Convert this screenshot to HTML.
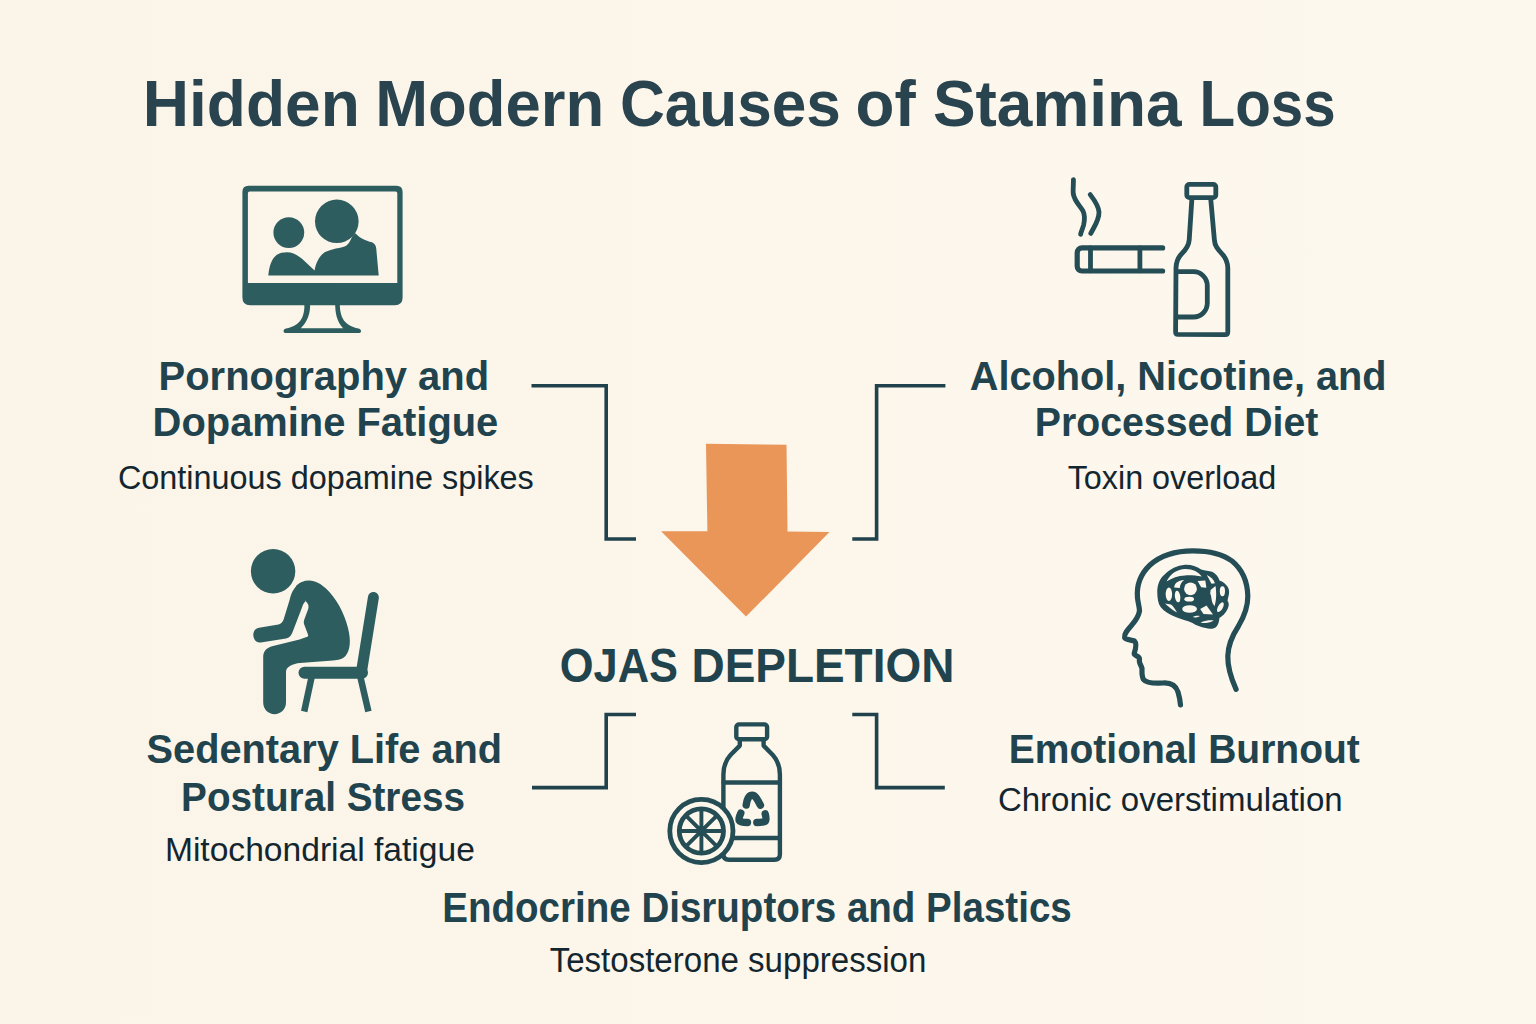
<!DOCTYPE html>
<html><head><meta charset="utf-8"><style>
html,body{margin:0;padding:0;background:#fcf6eb;}
body{width:1536px;height:1024px;overflow:hidden;position:relative;}
svg{position:absolute;left:0;top:0;}
text{font-family:"Liberation Sans",sans-serif;}
</style></head><body>
<svg width="1536" height="1024" viewBox="0 0 1536 1024">
<defs><linearGradient id="bgg" x1="0" y1="0" x2="1" y2="0"><stop offset="0" stop-color="#fbf4e8"/><stop offset="1" stop-color="#fdf8ee"/></linearGradient></defs>
<rect width="1536" height="1024" fill="url(#bgg)"/>

<g stroke="#1f424d" fill="none" stroke-width="3.6" stroke-linejoin="miter">
 <path d="M531.5,385.8 H606.2 V539 H636"/>
 <path d="M945.4,385.8 H876.6 V539 H852.3"/>
 <path d="M636,714.5 H606.2 V787.6 H532"/>
 <path d="M852.3,714.5 H876.6 V787.6 H944.8"/>
</g>

<path d="M706,443.7 L786.5,444.7 L787.5,531.6 L829.5,532 L746,616.6 L661.1,531.2 L707.4,531.2 Z" fill="#e99658"/>

<g fill="#2d5d5f">
 <path fill-rule="evenodd" d="M248.5,185.8 H396.5 Q402.6,185.8 402.6,191.9 V297.5 Q402.6,305.3 394.8,305.3 H250.2 Q242.4,305.3 242.4,297.5 V191.9 Q242.4,185.8 248.5,185.8 Z M249.6,191.6 Q247.9,191.6 247.9,193.3 V282.9 H397.3 V193.3 Q397.3,191.6 395.6,191.6 Z"/>
 <circle cx="288.8" cy="232.6" r="15.4"/>
 <path d="M268.3,275.4 C269.3,266 271.5,259 276.5,255 C279.5,252.8 283,252.2 287,252.2 C293,252.2 297,255 302.3,258.9 L314.6,270.4 C315.8,264 318.3,257.5 323.1,253.4 C327,250.6 333,249 342.2,247.3 C345.6,246.5 347.8,244.8 349.8,241.4 L352.5,236 L355.3,233.2 C357.5,235.5 359.5,237 362,238.5 C365,240.5 369,241.5 372,242.3 C375,243.5 376,246 376.3,249 L378.7,275.4 Z"/>
 <circle cx="336.8" cy="221.3" r="21.8"/>
</g>
<path fill="#2d5d5f" fill-rule="evenodd" d="M304.4,304.5 C304.6,313 302.5,320 297,324 C293.5,326.5 289,327.8 286,328.6 C284,329.2 283.4,330.4 283.6,331.4 C283.8,332.5 284.8,333.1 286,333.1 H358.5 C359.8,333.1 360.8,332.5 361,331.4 C361.2,330.4 360.5,329.2 358.5,328.6 C355.5,327.8 351,326.5 347.5,324 C342,320 339.9,313 339.8,304.5 Z M310.1,304.5 C310.3,313 308,321 300.8,328.2 H343.1 C336.5,321 335.3,313 335.2,304.5 Z"/>


<g stroke="#244d55" fill="none" stroke-width="4.8" stroke-linecap="round" stroke-linejoin="round">
 <path d="M1073.4,179.6 C1073.6,184 1072.8,190 1073.3,194 C1074.5,201 1080,206 1083,211 C1085,215 1084.7,220 1083.6,225 C1082.6,229 1081,231.5 1080.6,234.4"/>
 <path d="M1090.2,194.6 C1094,199.5 1098.5,206 1099,212 C1099.3,220 1094,227 1090.8,233.4"/>
 <path d="M1162.6,247.9 H1082 C1079.2,247.9 1077.2,249.9 1077.2,252.7 V266.2 C1077.2,269 1079.2,271 1082,271 H1162.6" stroke-width="5.2"/>
 <path d="M1090.5,248 V270.8 M1139.9,248 V270.8"/>
 <rect x="1186.8" y="184.4" width="29" height="13.2" rx="2.6"/>
 <path d="M1191.9,198.5 L1189.2,240 C1188.8,246 1186,249.5 1181.5,254 C1177.5,258 1176.2,261.5 1176,268 L1175.6,332 Q1175.6,334.3 1178,334.4 L1225.4,334.6 Q1227.8,334.6 1227.8,332 L1227.8,268 C1227.6,261.5 1226,258 1222,253.8 C1217.5,249 1214.8,246 1214.4,240 L1210.7,198.5"/>
 <path d="M1176.6,271.7 H1193.6 C1201,271.7 1207.3,278 1207.3,286 V303 C1207.3,311 1201,317 1193.6,317 H1176.6"/>
</g>


<g fill="#2d5d5f">
 <circle cx="273.1" cy="571.2" r="22.2"/>
 <path d="M296,586 C299.5,582.5 304,580.5 309,580.5 C316,580.8 321,584 326,588.5 C336,598 344,612 348,628 C351,640 350.5,650 345.5,656 C342.5,659.2 338.5,660 333,660.5 L300,663 C293,663.6 286,666.5 286,672 L286,702.5 C286,709.5 280.5,714.2 274.5,714.2 C268.5,714.2 263.2,709.5 263.2,702.5 L263.2,657 C263.2,651.5 266,648 272,646.2 L299.5,639.6 L307.3,636.8 C308.3,636.3 308.4,635.3 307.9,634.3 L304.2,624.5 C303.6,622.8 303.7,621 304.3,619.5 L308.2,609 C308.8,607 308.6,605 307.6,603.5 L305.8,601.2 Z"/>
 <path d="M253.3,634.8 C253.3,630.8 255.5,628.3 259,627.7 L278.5,624.4 C281.2,623.9 282.6,622.3 283.6,619.6 L289.6,600 C291.5,592 295,585 302,582 L305.6,601.3 C304.3,602.3 303,604.5 302,607.5 L292.6,632 C291.2,635.8 289.2,637.8 286,638.4 L260.8,642.5 C256.6,643.1 253.3,639.6 253.3,634.8 Z"/>
</g>
<g stroke="#2d5d5f" fill="none" stroke-linecap="round">
 <path d="M373.4,597.5 L361.6,671" stroke-width="11"/>
 <path d="M304.5,672.8 H362" stroke-width="12"/>
 <path d="M311.6,677 L304.2,711.5 M360.4,677 L368.4,711.5" stroke-width="6.5" stroke-linecap="butt"/>
</g>


<g stroke="#244d55" fill="none" stroke-width="5.2" stroke-linecap="round" stroke-linejoin="round">
 <path d="M1236.1,689.4 C1231,678 1227.5,668 1227.8,656 C1228,645 1232,636 1238.5,626 C1245,615 1248,606 1247.8,596 C1247.5,583 1243,570 1232,561 C1222,553.5 1208,550.8 1193,550.8 C1177,550.8 1161,555 1150,565 C1140,574.5 1136.5,587 1137.5,598 C1138,603 1139.5,607 1139.5,611 C1138.5,617 1135,621.5 1131,626 C1127,630.5 1124,634 1124.6,637.5 C1125.5,640 1131,639.8 1134.5,641 C1136.5,643 1135.8,648.5 1134.2,653.5 C1134,656 1140,656 1139.5,659.5 C1138.5,663 1141.5,665.5 1142,668.5 C1142,672 1141.5,676 1143.5,679.5 C1146,683 1153,683.5 1163,683 C1171,682.5 1176,686 1178,692 C1179.5,697 1180.3,702 1180.5,705"/>
</g>
<path fill="#244d55" d="M1157.3,592.9 C1157,585 1160,578 1164.6,574.6 C1170,569 1177,565.5 1185.1,564.8 C1191,564.5 1196.5,566.5 1201.2,569.5 C1205,571 1209,570.8 1212.2,571.7 C1216,573.5 1218.5,577 1219.5,580.5 C1224.5,582.5 1229,586.5 1229.1,591.5 C1229.3,595.5 1227.5,598.5 1227.6,601 C1229,603 1229,605 1228.3,606.9 C1227,611.5 1223.5,615.5 1219.5,617.8 C1219,621.5 1218.5,625 1215.9,627.3 C1212.5,629.5 1208.5,629 1205.6,628.1 C1201,627 1196,625.5 1192.5,623 C1187,620.5 1181,619.5 1175.6,617.1 C1169.5,614.5 1164,611.5 1161,607.6 C1158,603.5 1157.4,598 1157.3,592.9 Z"/>
<g fill="#fdf7ed">
 <path d="M1166.5,581.5 C1170.5,573.5 1177.5,569.3 1185,569 C1192.5,568.8 1198.5,572 1201.8,576.5 C1196,575.5 1191,575.2 1185,575.4 C1178,575.8 1172,577.8 1166.5,581.5 Z"/>
 <ellipse cx="1168.9" cy="594.2" rx="3.2" ry="6.8"/>
 <ellipse cx="1177.6" cy="596.6" rx="2.7" ry="5.8" transform="rotate(-8 1177.6 596.6)"/>
 <path d="M1174.2,587.5 C1174.5,583 1178,580.5 1184.2,580 C1181.5,582 1180,584.5 1179.8,588 Z"/>
 <circle cx="1190.5" cy="588.8" r="6.4"/>
 <ellipse cx="1189.2" cy="599.2" rx="4.8" ry="2.4"/>
 <ellipse cx="1189.6" cy="609" rx="7.4" ry="3.8"/>
 <path d="M1165,603.5 C1168.5,607 1173,610.5 1177,612.6 C1175,609 1173.5,606.5 1171,604.5 Z"/>
 <path d="M1197.6,581 L1205.3,580.5 L1206.4,587.8 L1201.2,587.2 Z"/>
 <path d="M1206.8,575 C1210.5,576.5 1213.5,579.5 1215,583.2 L1211.5,583.7 Z"/>
 <path d="M1210.6,590 L1215.5,586 C1216.5,592 1216.6,600 1214.5,606.3 L1212.5,603 C1211.3,600 1211.5,596 1210.2,593.5 Z"/>
 <ellipse cx="1222.4" cy="591.2" rx="2.6" ry="5"/>
 <ellipse cx="1220.4" cy="607.2" rx="2.4" ry="5.4" transform="rotate(30 1220.4 607.2)"/>
 <path d="M1200.2,609 L1206.5,605.5 L1213,614.6 L1203.5,614 Z"/>
 <path d="M1192.6,617 C1195,615.6 1198,615.5 1199.8,615.9 C1198,617.3 1195,617.8 1192.6,617 Z"/>
 <path d="M1200.5,622.5 C1204.5,620.5 1210,620 1213.7,620.3 C1211,622.8 1205,623.8 1200.5,622.5 Z"/>
</g>


<g stroke="#244d55" fill="none" stroke-width="4.4" stroke-linecap="round" stroke-linejoin="round">
 <rect x="736.3" y="724.4" width="30.8" height="14.8" rx="2.8"/>
 <path d="M739.8,740 V745.6 L730.5,755 C725.5,760.5 723.4,766 723.4,774.5 V854.5 Q723.4,859.7 729,859.7 H774.5 Q779.9,859.7 779.9,854.5 V774.5 C779.9,766 777.8,760.5 772.8,755 L763.6,745.6 V740"/>
 <path d="M723.6,782.5 H779.9 M723.6,838 H779.9"/>
</g>
<g stroke="#244d55" fill="none" stroke-width="7.4" stroke-linecap="round" stroke-linejoin="round">
 <path d="M746.2,805 C747,799.5 749,795.2 752.2,795.2 C755.5,795.2 757.8,800 760.4,805.2"/>
 <path d="M740.8,813.2 C739.5,816 738.5,818.5 739.2,820.5 C740,822 743,822.5 747.5,822.5"/>
 <path d="M765.2,813.8 C766,817 766.5,819.5 765.5,821 C764.5,822.3 761,822.5 756.8,822.5"/>
</g>
<circle cx="701.4" cy="831" r="32" fill="#fcf6eb"/>
<g stroke="#244d55" fill="none">
 <circle cx="701.4" cy="831" r="31.6" stroke-width="4.8"/>
 <circle cx="701.4" cy="831" r="22.1" stroke-width="4.8"/>
 <path d="M701.4,809.5 V852.5 M679.9,831 H722.9 M686.2,815.8 L716.6,846.2 M716.6,815.8 L686.2,846.2" stroke-width="3.9"/>
</g>
<circle cx="701.4" cy="831" r="4.2" fill="#244d55"/>

<text x="142.82" y="125.70" font-size="65.4" font-weight="700" fill="#29434f" textLength="217.04" lengthAdjust="spacingAndGlyphs">Hidden</text>
<text x="375.16" y="125.70" font-size="65.4" font-weight="700" fill="#29434f" textLength="229.00" lengthAdjust="spacingAndGlyphs">Modern</text>
<text x="619.91" y="125.70" font-size="65.4" font-weight="700" fill="#29434f" textLength="221.02" lengthAdjust="spacingAndGlyphs">Causes</text>
<text x="855.55" y="125.70" font-size="65.4" font-weight="700" fill="#29434f" textLength="60.09" lengthAdjust="spacingAndGlyphs">of</text>
<text x="932.88" y="125.70" font-size="65.4" font-weight="700" fill="#29434f" textLength="248.79" lengthAdjust="spacingAndGlyphs">Stamina</text>
<text x="1199.52" y="125.70" font-size="65.4" font-weight="700" fill="#29434f" textLength="136.15" lengthAdjust="spacingAndGlyphs">Loss</text>
<text x="158.61" y="389.80" font-size="41.3" font-weight="700" fill="#21434e" textLength="330.42" lengthAdjust="spacingAndGlyphs">Pornography and</text>
<text x="152.61" y="436.30" font-size="41.3" font-weight="700" fill="#21434e" textLength="345.69" lengthAdjust="spacingAndGlyphs">Dopamine Fatigue</text>
<text x="117.88" y="489.30" font-size="34.0" font-weight="400" fill="#13262f" textLength="415.93" lengthAdjust="spacingAndGlyphs">Continuous dopamine spikes</text>
<text x="969.81" y="389.80" font-size="41.3" font-weight="700" fill="#21434e" textLength="416.69" lengthAdjust="spacingAndGlyphs">Alcohol, Nicotine, and</text>
<text x="1034.75" y="436.30" font-size="41.3" font-weight="700" fill="#21434e" textLength="283.66" lengthAdjust="spacingAndGlyphs">Processed Diet</text>
<text x="1067.65" y="489.30" font-size="34.0" font-weight="400" fill="#13262f" textLength="208.55" lengthAdjust="spacingAndGlyphs">Toxin overload</text>
<text x="559.76" y="681.60" font-size="48" font-weight="700" fill="#21434e" textLength="118.21" lengthAdjust="spacingAndGlyphs">OJAS</text>
<text x="691.48" y="681.60" font-size="48" font-weight="700" fill="#21434e" textLength="262.85" lengthAdjust="spacingAndGlyphs">DEPLETION</text>
<text x="146.61" y="763.20" font-size="41.4" font-weight="700" fill="#21434e" textLength="355.55" lengthAdjust="spacingAndGlyphs">Sedentary Life and</text>
<text x="181.09" y="810.70" font-size="41.4" font-weight="700" fill="#21434e" textLength="283.91" lengthAdjust="spacingAndGlyphs">Postural Stress</text>
<text x="164.91" y="861.00" font-size="34.0" font-weight="400" fill="#13262f" textLength="309.98" lengthAdjust="spacingAndGlyphs">Mitochondrial fatigue</text>
<text x="1008.87" y="763.20" font-size="41.4" font-weight="700" fill="#21434e" textLength="350.98" lengthAdjust="spacingAndGlyphs">Emotional Burnout</text>
<text x="997.95" y="811.40" font-size="34.0" font-weight="400" fill="#13262f" textLength="344.72" lengthAdjust="spacingAndGlyphs">Chronic overstimulation</text>
<text x="442.30" y="921.70" font-size="41.8" font-weight="700" fill="#21434e" textLength="629.44" lengthAdjust="spacingAndGlyphs">Endocrine Disruptors and Plastics</text>
<text x="549.64" y="971.80" font-size="34.4" font-weight="400" fill="#13262f" textLength="376.73" lengthAdjust="spacingAndGlyphs">Testosterone suppression</text>
</svg>
</body></html>
